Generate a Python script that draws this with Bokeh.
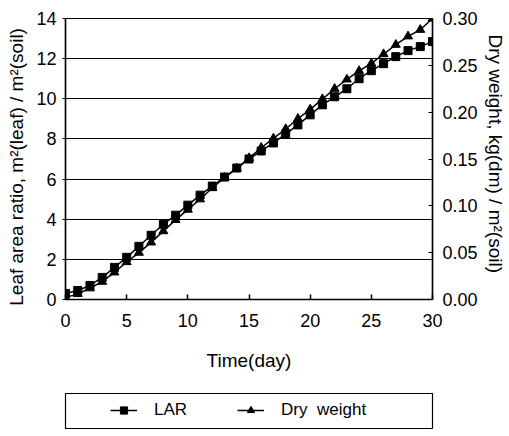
from bokeh.plotting import figure
from bokeh.layouts import column
from bokeh.models import (Range1d, LinearAxis, Legend, LegendItem, FixedTicker,
                          PrintfTickFormatter, ColumnDataSource)
from bokeh.embed import file_html
from bokeh.resources import INLINE

# ---- data ----
days = list(range(31))
lar = [0.30, 0.45, 0.70, 1.10, 1.60, 2.10, 2.65, 3.20, 3.75, 4.20, 4.70,
       5.20, 5.65, 6.10, 6.55, 7.00, 7.40, 7.80, 8.25, 8.70, 9.20,
       9.70, 10.10, 10.50, 11.00, 11.40, 11.75, 12.10, 12.40, 12.60, 12.85]
dry_weight = [0.002, 0.006, 0.012, 0.019, 0.029, 0.040, 0.050, 0.061, 0.073, 0.085, 0.096,
              0.107, 0.119, 0.130, 0.140, 0.151, 0.162, 0.172, 0.182, 0.193, 0.203,
              0.214, 0.225, 0.235, 0.244, 0.252, 0.262, 0.272, 0.281, 0.288, 0.300]
x_ticks = [0, 5, 10, 15, 20, 25, 30]
left_ticks = [0, 2, 4, 6, 8, 10, 12, 14]
right_ticks = [0.0, 0.05, 0.10, 0.15, 0.20, 0.25, 0.30]
series_names = ["LAR", "Dry  weight"]

FONT = "Liberation Sans"
TICK_FS = "18px"
LABEL_FS = "19px"

src = ColumnDataSource(dict(day=days, lar=lar, dw=dry_weight))

p = figure(width=509, height=392, output_backend="svg", toolbar_location=None,
           x_range=Range1d(0, 30), y_range=Range1d(0, 14),
           min_border_left=65, min_border_right=77, min_border_top=18,
           min_border_bottom=93)
p.extra_y_ranges = {"dw": Range1d(0, 0.30)}

p.background_fill_color = "white"
p.border_fill_color = "white"
p.outline_line_color = "black"
p.outline_line_width = 1.2

# grid
p.xgrid.visible = False
p.ygrid.ticker = FixedTicker(ticks=left_ticks)
p.ygrid.grid_line_color = "black"
p.ygrid.grid_line_width = 1

# x axis
xa = p.xaxis[0]
xa.ticker = FixedTicker(ticks=x_ticks)
xa.axis_label = "Time(day)"
xa.major_tick_in = 5
xa.major_tick_out = 0
xa.minor_tick_line_color = None
xa.axis_line_width = 1.5
xa.major_tick_line_width = 1.5
xa.major_label_text_font = FONT
xa.major_label_text_font_size = TICK_FS
xa.major_label_text_color = "black"
xa.major_label_standoff = 14
xa.axis_label_text_font = FONT
xa.axis_label_text_font_size = LABEL_FS
xa.axis_label_text_font_style = "normal"
xa.axis_label_text_color = "black"
xa.axis_label_standoff = 20

# left y axis
ya = p.yaxis[0]
ya.ticker = FixedTicker(ticks=left_ticks)
ya.axis_label = "Leaf  area  ratio,  m\u00b2(leaf) / m\u00b2(soil)"
ya.major_tick_in = 0
ya.major_tick_out = 3
ya.minor_tick_line_color = None
ya.axis_line_width = 1.5
ya.major_label_text_font = FONT
ya.major_label_text_font_size = TICK_FS
ya.major_label_text_color = "black"
ya.major_label_standoff = 6
ya.axis_label_text_font = FONT
ya.axis_label_text_font_size = LABEL_FS
ya.axis_label_text_font_style = "normal"
ya.axis_label_text_color = "black"
ya.axis_label_standoff = 6

# right y axis
ra = LinearAxis(y_range_name="dw")
ra.ticker = FixedTicker(ticks=right_ticks)
ra.formatter = PrintfTickFormatter(format="%.2f")
ra.axis_label = "Dry  weight,  kg(dm) / m\u00b2(soil)"
ra.major_tick_in = 4
ra.major_tick_out = 0
ra.minor_tick_line_color = None
ra.axis_line_width = 1.5
ra.major_label_text_font = FONT
ra.major_label_text_font_size = TICK_FS
ra.major_label_text_color = "black"
ra.major_label_standoff = 10
ra.axis_label_text_font = FONT
ra.axis_label_text_font_size = LABEL_FS
ra.axis_label_text_font_style = "normal"
ra.axis_label_text_color = "black"
ra.axis_label_standoff = 4
p.add_layout(ra, "right")

# series
p.line("day", "lar", source=src, line_color="black", line_width=1.5)
p.scatter("day", "lar", source=src, marker="square", size=8,
          fill_color="black", line_color="black")
p.line("day", "dw", source=src, y_range_name="dw", line_color="black", line_width=1.5)
p.scatter("day", "dw", source=src, y_range_name="dw", marker="triangle", size=9,
          fill_color="black", line_color="black")

# ---- legend strip (boxed), drawn below the chart ----
# its view window lies outside the data, so only the legend samples show
lg = figure(width=509, height=44, output_backend="svg", toolbar_location=None,
            x_axis_type=None, y_axis_type=None,
            x_range=Range1d(-2, -1), y_range=Range1d(-2, -1),
            min_border_left=63, min_border_right=69, min_border_top=1,
            min_border_bottom=8)
lg.grid.visible = False
lg.outline_line_color = "black"
lg.outline_line_width = 1.2
lg.background_fill_color = "white"
lg.border_fill_color = "white"

k1 = lg.line("day", "lar", source=src, line_color="black", line_width=1.5)
s1 = lg.scatter("day", "lar", source=src, marker="square", size=8,
                fill_color="black", line_color="black")
k2 = lg.line("day", "dw", source=src, line_color="black", line_width=1.5)
s2 = lg.scatter("day", "dw", source=src, marker="triangle", size=9,
                fill_color="black", line_color="black")

legend = Legend(items=[LegendItem(label=series_names[0], renderers=[k1, s1]),
                       LegendItem(label=series_names[1], renderers=[k2, s2])],
                orientation="horizontal", location=(45, 8))
legend.border_line_color = None
legend.background_fill_alpha = 0
legend.padding = 0
legend.margin = 0
legend.spacing = 50
legend.glyph_width = 27
legend.glyph_height = 18
legend.label_height = 18
legend.label_standoff = 17
legend.label_text_font = FONT
legend.label_text_font_size = "17px"
legend.label_text_color = "black"
lg.add_layout(legend, "center")

open("out.html", "w").write(file_html(column(p, lg, spacing=0), INLINE))
